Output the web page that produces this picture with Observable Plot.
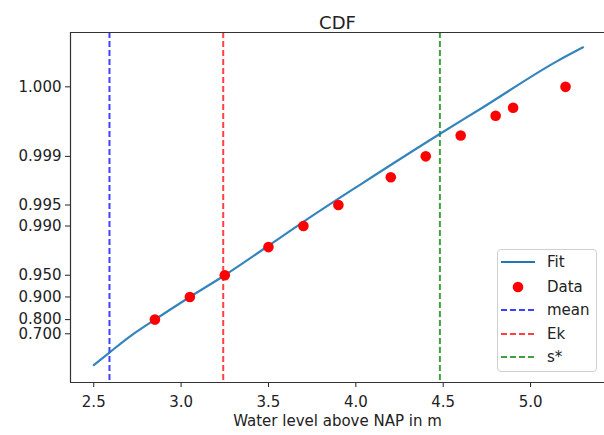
<!DOCTYPE html>
<html>
<head>
<meta charset="utf-8">
<script src="https://cdn.jsdelivr.net/npm/d3@7"></script>
<script src="https://cdn.jsdelivr.net/npm/@observablehq/plot@0.6"></script>
<style>
  html, body { margin: 0; padding: 0; background: white; }
  #wrap { position: relative; width: 604px; height: 435px; overflow: hidden; font-family: "DejaVu Sans", sans-serif; }
  #legend { position: absolute; left: 497px; top: 249px; width: 100px; height: 123px;
            border: 1px solid #d0d0d0; border-radius: 4px; background: rgba(255,255,255,0.85); box-sizing: border-box; }
  .row { position: absolute; left: 0; height: 20px; width: 100%; }
  .row svg { position: absolute; left: 3px; top: 0; }
  .row span { position: absolute; left: 49px; top: 0; line-height: 20px; font-size: 15px; color: #222; }
</style>
</head>
<body>
<div id="wrap"></div>
<script>
// ---- data ----
const dataLevel = [2.85, 3.05, 3.25, 3.50, 3.70, 3.90, 4.20, 4.40, 4.60, 4.80, 4.90, 5.20];
const dataProb  = [0.80, 0.90, 0.95, 0.98, 0.99, 0.995, 0.998, 0.999, 0.9995, 0.99974, 0.9998, 0.9999];

const fitLevel = [2.50, 2.59, 2.71, 2.85, 3.05, 3.25, 3.57, 3.70, 4.03, 4.48, 4.71, 5.15, 5.30];
const fitProb  = [0.365, 0.515, 0.680, 0.80, 0.90, 0.95, 0.9855, 0.9913, 0.9975, 0.999524, 0.99979, 0.999957, 0.999973];

const refNames  = ["mean", "Ek", "s*"];
const refLevels = [2.59, 3.241, 4.481];
const refColors = ["blue", "red", "green"];

const xTickValues = [2.5, 3.0, 3.5, 4.0, 4.5, 5.0];
const yTickProbs  = [0.7, 0.8, 0.9, 0.95, 0.99, 0.995, 0.999, 0.9999];

const titleText = "CDF";
const xLabelText = "Water level above NAP in m";

// Gumbel reduced variate (probability paper)
const gumbel = p => -Math.log(-Math.log(p));
const gumbelInv = g => Math.exp(-Math.exp(-g));

const dataRows = dataLevel.map((x, i) => ({x, p: dataProb[i]}));
const fitRows = fitLevel.map((x, i) => ({x, p: fitProb[i]}));
const refRows = refLevels.map((x, i) => ({x, name: refNames[i], color: refColors[i]}));

const xDomain = [2.367, 5.423];
const yDomain = [-0.583, 11.01];

const chart = Plot.plot({
  width: 604,
  height: 435,
  marginLeft: 70,
  marginTop: 32,
  marginBottom: 53,
  marginRight: 0,
  style: {fontFamily: "DejaVu Sans", fontSize: "15px", color: "#222", background: "white", overflow: "visible"},
  x: {domain: xDomain, ticks: xTickValues, tickFormat: d3.format(".1f"), tickSize: 5, tickPadding: 9, label: null},
  y: {domain: yDomain, ticks: yTickProbs.map(gumbel), tickFormat: v => gumbelInv(v).toFixed(3), tickSize: 5, tickPadding: 4, label: null},
  marks: [
    Plot.ruleX(refRows, {x: "x", stroke: "color", strokeOpacity: 0.75, strokeWidth: 2, strokeDasharray: "6,3"}),
    Plot.line(fitRows, {x: "x", y: d => gumbel(d.p), curve: "monotone-x", stroke: "#1f77b4", strokeWidth: 2.2, strokeOpacity: 0.9}),
    Plot.dot(dataRows, {x: "x", y: d => gumbel(d.p), r: 5.3, fill: "red", stroke: "none"}),
    Plot.ruleX([xDomain[0]], {stroke: "#333", strokeWidth: 1.2}),
    Plot.ruleY([yDomain[0]], {stroke: "#333", strokeWidth: 1.2}),
    Plot.ruleY([yDomain[1]], {stroke: "#333", strokeWidth: 1.2}),
    Plot.text([titleText], {frameAnchor: "top", dy: -16, fontSize: 18, fill: "#222"}),
    Plot.text([xLabelText], {frameAnchor: "bottom", dy: 43, fontSize: 15, fill: "#222"})
  ]
});

const wrap = document.getElementById("wrap");
wrap.appendChild(chart);

// legend
const legend = document.createElement("div");
legend.id = "legend";
const legendItems = [
  {label: "Fit", kind: "line", color: "#1f77b4"},
  {label: "Data", kind: "dot", color: "red"},
  ...refRows.map(r => ({label: r.name, kind: "dash", color: r.color}))
];
const rowCenters = [12, 37, 60, 84, 107];
legendItems.forEach((it, i) => {
  const row = document.createElement("div");
  row.className = "row";
  row.style.top = (rowCenters[i] - 10) + "px";
  let sw = "";
  if (it.kind === "line") sw = `<line x1="0" x2="34" y1="10" y2="10" stroke="${it.color}" stroke-width="2.2"/>`;
  else if (it.kind === "dot") sw = `<circle cx="17" cy="10" r="5.3" fill="${it.color}"/>`;
  else sw = `<line x1="0" x2="34" y1="10" y2="10" stroke="${it.color}" stroke-opacity="0.75" stroke-width="2" stroke-dasharray="6,3"/>`;
  row.innerHTML = `<svg width="34" height="20">${sw}</svg><span>${it.label}</span>`;
  legend.appendChild(row);
});
wrap.appendChild(legend);
</script>
</body>
</html>
